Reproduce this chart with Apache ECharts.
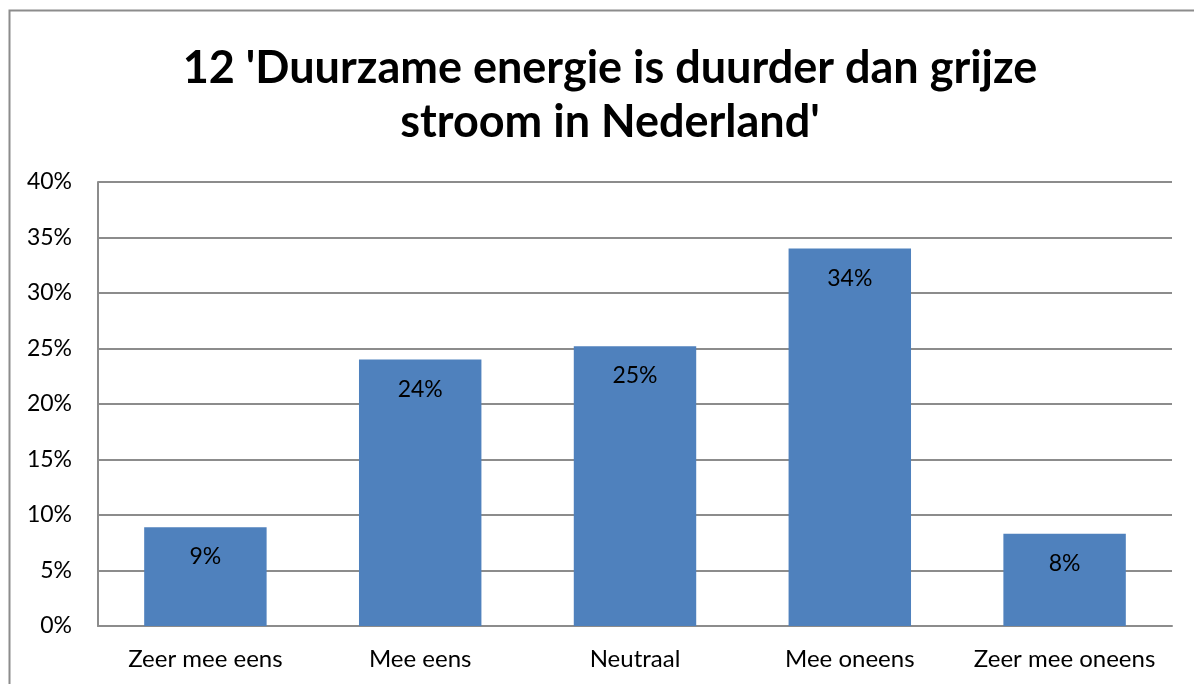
<!DOCTYPE html>
<html>
<head>
<meta charset="utf-8">
<script src="https://cdn.jsdelivr.net/npm/echarts@6/dist/echarts.min.js"></script>
<style>
  html, body { margin: 0; padding: 0; background: #fff; }
  #chart { width: 1194px; height: 684px; }
</style>
</head>
<body>
<div id="chart"></div>
<script>
var categorieen = ['Zeer mee eens', 'Mee eens', 'Neutraal', 'Mee oneens', 'Zeer mee oneens'];
var percentages = [8.9, 24.0, 25.2, 34.0, 8.3];
var asLabels = [0, 5, 10, 15, 20, 25, 30, 35, 40];

var myChart = echarts.init(document.getElementById('chart'));
var fontFam = 'Lato, "Open Sans", sans-serif';

var option = {
  animation: false,
  title: {
    text: "12 'Duurzame energie is duurder dan grijze\nstroom in Nederland'",
    left: 605,
    textAlign: 'center',
    top: 36,
    textStyle: {
      fontFamily: fontFam,
      fontWeight: 'bold',
      fontSize: 45,
      lineHeight: 54,
      color: '#000'
    }
  },
  graphic: [{
    type: 'rect',
    shape: { x: 9.5, y: 10.5, width: 1200, height: 700 },
    style: { fill: 'none', stroke: '#8c8c8c', lineWidth: 2 },
    silent: true
  }],
  grid: { left: 98, right: 22, top: 182, bottom: 58 },
  xAxis: {
    type: 'category',
    data: categorieen,
    axisLine: { lineStyle: { color: '#8c8c8c', width: 2 } },
    axisTick: { show: false },
    axisLabel: { interval: 0, color: '#000', fontSize: 24, fontFamily: fontFam, margin: 21 }
  },
  yAxis: {
    type: 'value',
    min: 0,
    max: 40,
    interval: 5,
    axisLine: { show: true, lineStyle: { color: '#8c8c8c', width: 2 } },
    axisTick: { show: false },
    splitLine: { lineStyle: { color: '#8c8c8c', width: 2 } },
    axisLabel: {
      color: '#000', fontSize: 23, fontFamily: fontFam, margin: 26,
      formatter: function (v) { return asLabels.indexOf(v) >= 0 ? v + '%' : ''; }
    }
  },
  series: [{
    type: 'bar',
    data: percentages,
    barWidth: '57%',
    itemStyle: { color: '#4f81bd' },
    label: {
      show: true,
      position: 'insideTop',
      distance: 18,
      color: '#000',
      fontSize: 23,
      fontFamily: fontFam,
      formatter: function (p) { return Math.round(p.value) + '%'; }
    }
  }]
};
myChart.setOption(option);
</script>
</body>
</html>
